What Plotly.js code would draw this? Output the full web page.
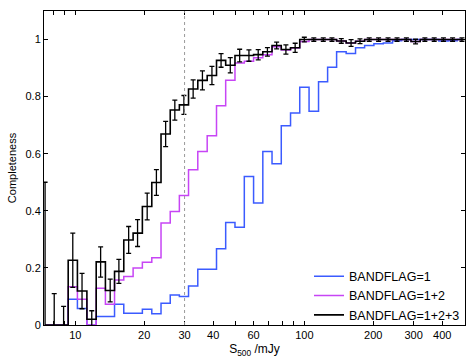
<!DOCTYPE html>
<html>
<head>
<meta charset="utf-8">
<script src="https://cdn.plot.ly/plotly-3.0.1.min.js"></script>
<style>
  html, body { margin: 0; padding: 0; background: #fff; }
  #chart { width: 471px; height: 363px; }
</style>
</head>
<body>
<div id="chart"></div>
<script>
// bin centres in mJy (log-spaced bins)
const fluxBins = [7.38, 8.09, 8.89, 9.75, 10.7, 11.8, 12.9, 14.2, 15.5, 17.1,
                  18.7, 20.6, 22.6, 24.8, 27.2, 29.8, 32.7, 35.9, 39.5, 43.3,
                  47.5, 52.2, 57.3, 62.9, 69.0, 75.7, 83.1, 91.2, 100, 110,
                  121, 132, 145, 160, 175, 192, 211, 232, 254, 279,
                  306, 336, 369, 405, 444, 488];

const complBand1 = [0, 0, 0, 0.09, 0.058, 0, 0.03, 0.03, 0.073, 0.041,
                    0.041, 0.055, 0.039, 0.076, 0.105, 0.1, 0.137, 0.195, 0.195, 0.267,
                    0.359, 0.342, 0.52, 0.427, 0.608, 0.565, 0.698, 0.743, 0.833, 0.749,
                    0.852, 0.903, 0.957, 0.951, 0.971, 0.979, 0.985, 0.988, 0.996, 1,
                    1, 1, 1, 0.995, 0.996, 1];

const complBand12 = [0, 0, 0, 0.134, 0.09, 0, 0.129, 0.073, 0.158, 0.17,
                     0.2, 0.22, 0.236, 0.357, 0.398, 0.454, 0.544, 0.608, 0.663, 0.768,
                     0.857, 0.918, 0.924, 0.936, 0.947, 0.975, 0.963, 0.97, 0.993, 1,
                     1, 1, 0.995, 0.988, 0.994, 1, 1, 1, 1, 1,
                     0.993, 1, 1, 1, 1, 1];

const complBand123 = [0, 0, 0, 0.227, 0.119, 0.02, 0.221, 0.121, 0.188, 0.298,
                      0.322, 0.415, 0.499, 0.669, 0.753, 0.771, 0.827, 0.857, 0.874, 0.927,
                      0.91, 0.944, 0.944, 0.947, 0.957, 0.979, 0.965, 0.971, 1, 1,
                      1, 1, 0.995, 0.988, 0.994, 1, 1, 1, 1, 1,
                      0.993, 1, 1, 1, 1, 1];

const errBand123 = [0.5, 0.11, 0.065, 0.095, 0.062, 0.03, 0.053, 0.04, 0.042, 0.047,
                    0.047, 0.047, 0.045, 0.044, 0.035, 0.033, 0.032, 0.033, 0.032, 0.024,
                    0.027, 0.022, 0.02, 0.018, 0.015, 0.012, 0.016, 0.016, 0.008, 0.006,
                    0.006, 0.006, 0.008, 0.012, 0.008, 0.006, 0.006, 0.006, 0.006, 0.006,
                    0.008, 0.006, 0.006, 0.006, 0.006, 0.006];

const seriesNames = ['BANDFLAG=1', 'BANDFLAG=1+2', 'BANDFLAG=1+2+3'];
const xTickVals = [8, 9, 10, 20, 30, 40, 50, 60, 70, 80, 90, 100, 200, 300, 400];
const xTickText = ['', '', '10', '20', '30', '40', '', '60', '', '', '', '100', '200', '300', '400'];
const cutLine = 30;

const data = [
    {
        x: fluxBins, y: complBand1,
        mode: 'lines', name: seriesNames[0],
        line: { color: '#3b5bff', width: 1.5, shape: 'hvh' }
    },
    {
        x: fluxBins, y: complBand12,
        mode: 'lines', name: seriesNames[1],
        line: { color: '#c745f5', width: 1.5, shape: 'hvh' }
    },
    {
        x: fluxBins, y: complBand123,
        mode: 'lines', name: seriesNames[2],
        line: { color: '#000000', width: 1.6, shape: 'hvh' },
        error_y: { type: 'data', array: errBand123, color: '#000000', thickness: 1.3, width: 2.5 }
    }
];

const black = '#000000';

const layout = {
    width: 471,
    height: 363,
    margin: { l: 44, r: 6, t: 11, b: 38 },
    paper_bgcolor: '#ffffff',
    plot_bgcolor: '#ffffff',
    font: { family: 'Liberation Sans, Arial, sans-serif', size: 11, color: black },
    showlegend: true,
    legend: {
        x: 1, y: -0.015, xanchor: 'right', yanchor: 'bottom',
        bgcolor: 'rgba(0,0,0,0)', borderwidth: 0,
        font: { size: 12.5, color: black }, tracegroupgap: 0, itemwidth: 30
    },
    xaxis: {
        type: 'log',
        range: [Math.log10(7.3), Math.log10(503)],
        tickvals: xTickVals, ticktext: xTickText,
        tickfont: { size: 11, color: black },
        ticks: 'inside', ticklen: 4, tickcolor: black,
        showline: true, linecolor: black, linewidth: 1, mirror: 'ticks',
        showgrid: false, zeroline: false,
        title: { text: 'S<sub>500</sub> /mJy', font: { size: 12, color: black }, standoff: 4 }
    },
    yaxis: {
        range: [0, 1.1],
        tickvals: [0, 0.2, 0.4, 0.6, 0.8, 1],
        ticktext: ['0', '0.2', '0.4', '0.6', '0.8', '1'],
        tickfont: { size: 11, color: black },
        ticks: 'inside', ticklen: 4, tickcolor: black,
        showline: true, linecolor: black, linewidth: 1, mirror: 'ticks',
        showgrid: false, zeroline: false,
        title: { text: 'Completeness', font: { size: 11, color: black }, standoff: 6 }
    },
    shapes: [{
        type: 'line', xref: 'x', yref: 'paper',
        x0: cutLine, x1: cutLine, y0: 0, y1: 1,
        line: { color: '#999999', width: 1, dash: 'dot' }
    }]
};

Plotly.newPlot('chart', data, layout, { displayModeBar: false, staticPlot: true });
</script>
</body>
</html>
